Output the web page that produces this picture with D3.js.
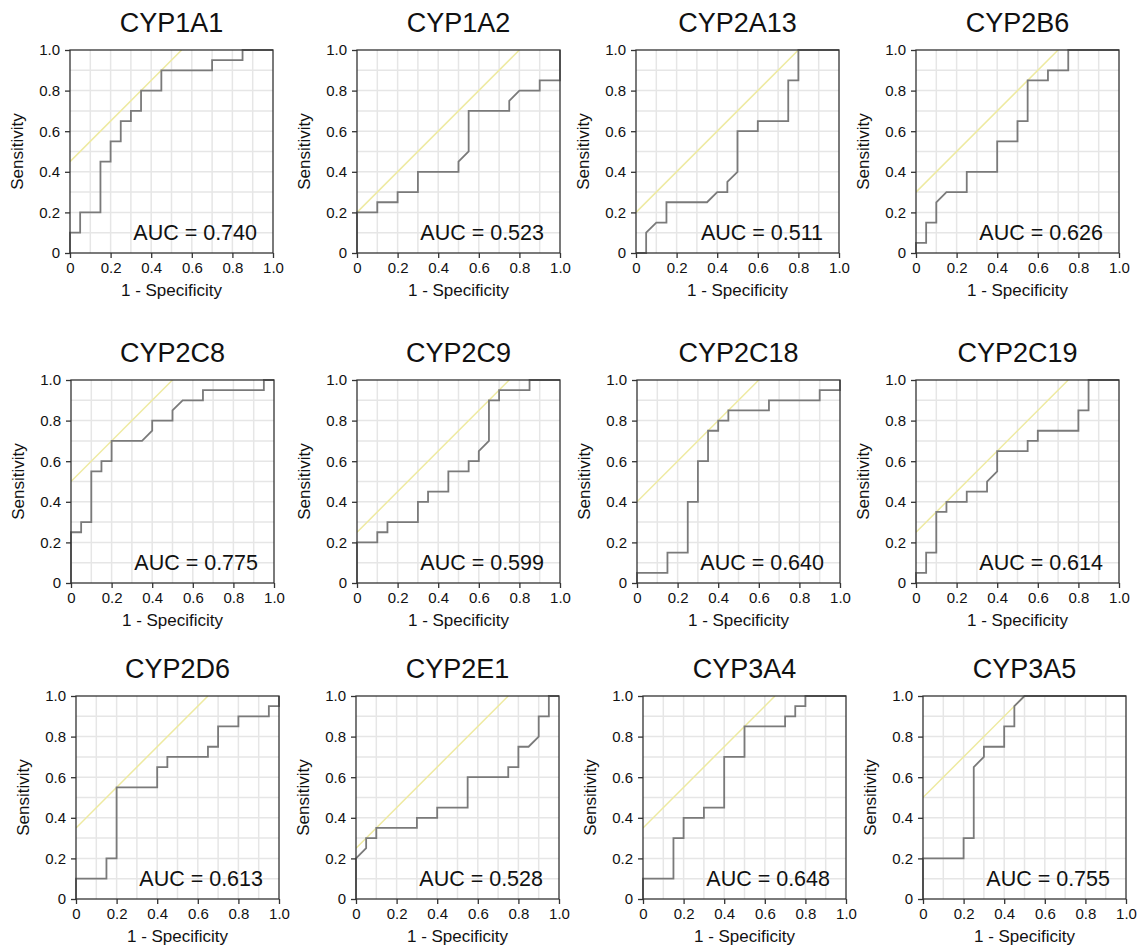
<!DOCTYPE html>
<html>
<head>
<meta charset="utf-8">
<script src="https://cdn.jsdelivr.net/npm/d3@7"></script>
<style>
  html, body { margin: 0; padding: 0; background: #fff; }
  svg { display: block; font-family: "Liberation Sans", Arial, sans-serif; }
</style>
</head>
<body>
<svg id="chart" width="1140" height="946"></svg>
<script>
// ROC curve vertices per enzyme: [1 - specificity, sensitivity]
const genes = ["CYP1A1", "CYP1A2", "CYP2A13", "CYP2B6",
               "CYP2C8", "CYP2C9", "CYP2C18", "CYP2C19",
               "CYP2D6", "CYP2E1", "CYP3A4", "CYP3A5"];
const aucValues = [0.740, 0.523, 0.511, 0.626, 0.775, 0.599, 0.640, 0.614, 0.613, 0.528, 0.648, 0.755];

const rocCYP1A1 = [[0,0.1],[0.05,0.1],[0.05,0.2],[0.15,0.2],[0.15,0.45],[0.2,0.45],[0.2,0.55],[0.25,0.55],[0.25,0.65],[0.3,0.65],[0.3,0.7],[0.35,0.7],[0.35,0.8],[0.45,0.8],[0.45,0.9],[0.7,0.9],[0.7,0.95],[0.85,0.95],[0.85,1]];
const rocCYP1A2 = [[0,0.2],[0.1,0.2],[0.1,0.25],[0.2,0.25],[0.2,0.3],[0.3,0.3],[0.3,0.4],[0.5,0.4],[0.5,0.45],[0.55,0.5],[0.55,0.7],[0.75,0.7],[0.75,0.75],[0.8,0.8],[0.9,0.8],[0.9,0.85],[1,0.85],[1,1]];
const rocCYP2A13 = [[0,0],[0.05,0],[0.05,0.1],[0.1,0.15],[0.15,0.15],[0.15,0.25],[0.35,0.25],[0.4,0.3],[0.45,0.3],[0.45,0.35],[0.5,0.4],[0.5,0.6],[0.6,0.6],[0.6,0.65],[0.75,0.65],[0.75,0.85],[0.8,0.85],[0.8,1]];
const rocCYP2B6 = [[0,0.05],[0.05,0.05],[0.05,0.15],[0.1,0.15],[0.1,0.25],[0.15,0.3],[0.25,0.3],[0.25,0.4],[0.4,0.4],[0.4,0.55],[0.5,0.55],[0.5,0.65],[0.55,0.65],[0.55,0.85],[0.65,0.85],[0.65,0.9],[0.75,0.9],[0.75,1]];
const rocCYP2C8 = [[0,0.25],[0.05,0.25],[0.05,0.3],[0.1,0.3],[0.1,0.55],[0.15,0.55],[0.15,0.6],[0.2,0.6],[0.2,0.7],[0.35,0.7],[0.4,0.75],[0.4,0.8],[0.5,0.8],[0.5,0.85],[0.55,0.9],[0.65,0.9],[0.65,0.95],[0.95,0.95],[0.95,1]];
const rocCYP2C9 = [[0,0.2],[0.1,0.2],[0.1,0.25],[0.15,0.25],[0.15,0.3],[0.3,0.3],[0.3,0.4],[0.35,0.4],[0.35,0.45],[0.45,0.45],[0.45,0.55],[0.55,0.55],[0.55,0.6],[0.6,0.6],[0.6,0.65],[0.65,0.7],[0.65,0.9],[0.7,0.9],[0.7,0.95],[0.85,0.95],[0.85,1]];
const rocCYP2C18 = [[0,0.05],[0.15,0.05],[0.15,0.15],[0.25,0.15],[0.25,0.4],[0.3,0.4],[0.3,0.6],[0.35,0.6],[0.35,0.75],[0.4,0.75],[0.4,0.8],[0.45,0.8],[0.45,0.85],[0.65,0.85],[0.65,0.9],[0.9,0.9],[0.9,0.95],[1,0.95],[1,1]];
const rocCYP2C19 = [[0,0.05],[0.05,0.05],[0.05,0.15],[0.1,0.15],[0.1,0.35],[0.15,0.35],[0.15,0.4],[0.25,0.4],[0.25,0.45],[0.35,0.45],[0.35,0.5],[0.4,0.55],[0.4,0.65],[0.55,0.65],[0.55,0.7],[0.6,0.7],[0.6,0.75],[0.8,0.75],[0.8,0.85],[0.85,0.85],[0.85,1]];
const rocCYP2D6 = [[0,0.1],[0.15,0.1],[0.15,0.2],[0.2,0.2],[0.2,0.55],[0.4,0.55],[0.4,0.65],[0.45,0.65],[0.45,0.7],[0.65,0.7],[0.65,0.75],[0.7,0.75],[0.7,0.85],[0.8,0.85],[0.8,0.9],[0.95,0.9],[0.95,0.95],[1,0.95],[1,1]];
const rocCYP2E1 = [[0,0.2],[0.05,0.25],[0.05,0.3],[0.1,0.3],[0.1,0.35],[0.3,0.35],[0.3,0.4],[0.4,0.4],[0.4,0.45],[0.55,0.45],[0.55,0.6],[0.75,0.6],[0.75,0.65],[0.8,0.65],[0.8,0.75],[0.85,0.75],[0.9,0.8],[0.9,0.9],[0.95,0.9],[0.95,1]];
const rocCYP3A4 = [[0,0.1],[0.15,0.1],[0.15,0.3],[0.2,0.3],[0.2,0.4],[0.3,0.4],[0.3,0.45],[0.4,0.45],[0.4,0.7],[0.5,0.7],[0.5,0.85],[0.7,0.85],[0.7,0.9],[0.75,0.9],[0.75,0.95],[0.8,0.95],[0.8,1]];
const rocCYP3A5 = [[0,0.2],[0.2,0.2],[0.2,0.3],[0.25,0.3],[0.25,0.65],[0.3,0.7],[0.3,0.75],[0.4,0.75],[0.4,0.85],[0.45,0.85],[0.45,0.95],[0.5,1]];

const rocCurves = [rocCYP1A1, rocCYP1A2, rocCYP2A13, rocCYP2B6,
                   rocCYP2C8, rocCYP2C9, rocCYP2C18, rocCYP2C19,
                   rocCYP2D6, rocCYP2E1, rocCYP3A4, rocCYP3A5];

const axisTicks = [0, 0.2, 0.4, 0.6, 0.8, 1.0];
const gridTicks = [0.1, 0.2, 0.3, 0.4, 0.5, 0.6, 0.7, 0.8, 0.9];

// Panel layout
const plotSize = 203;
const rowTops = [50, 380, 696];
const colLefts = [[70, 357, 636, 916], [71, 357, 637, 916], [76, 356, 643, 923]];

const svg = d3.select("#chart");
const x = d3.scaleLinear().domain([0, 1]).range([0, plotSize]);
const y = d3.scaleLinear().domain([0, 1]).range([plotSize, 0]);
const fmt = d => d === 0 ? "0" : d3.format(".1f")(d);

genes.forEach((gene, i) => {
  const row = Math.floor(i / 4), col = i % 4;
  const g = svg.append("g")
    .attr("transform", `translate(${colLefts[row][col]},${rowTops[row]})`);

  const clipId = "clip" + i;
  g.append("clipPath").attr("id", clipId)
    .append("rect").attr("width", plotSize).attr("height", plotSize);

  // grid
  g.append("g").selectAll("line.v").data(gridTicks).join("line")
    .attr("x1", d => x(d)).attr("x2", d => x(d))
    .attr("y1", 0).attr("y2", plotSize)
    .attr("stroke", "#e6e6e6").attr("stroke-width", 1.5);
  g.append("g").selectAll("line.h").data(gridTicks).join("line")
    .attr("y1", d => y(d)).attr("y2", d => y(d))
    .attr("x1", 0).attr("x2", plotSize)
    .attr("stroke", "#e6e6e6").attr("stroke-width", 1.5);

  // Youden reference line: slope 1 through the best cut-off
  const curve = [[0, 0], ...rocCurves[i], [1, 1]];
  const youden = d3.max(curve, p => p[1] - p[0]);
  g.append("line")
    .attr("clip-path", `url(#${clipId})`)
    .attr("x1", x(0)).attr("y1", y(youden))
    .attr("x2", x(1 - youden)).attr("y2", y(1))
    .attr("stroke", "#eeeaa0").attr("stroke-width", 1.5);

  // ROC curve
  g.append("path")
    .datum(curve)
    .attr("d", d3.line().x(d => x(d[0])).y(d => y(d[1])))
    .attr("fill", "none")
    .attr("stroke", "#7a7a7a").attr("stroke-width", 1.8);

  // frame
  g.append("rect").attr("width", plotSize).attr("height", plotSize)
    .attr("fill", "none").attr("stroke", "#333").attr("stroke-width", 1.3);

  // axes
  const ax = g.append("g").attr("transform", `translate(0,${plotSize})`)
    .call(d3.axisBottom(x).tickValues(axisTicks).tickFormat(fmt).tickSize(5).tickPadding(4));
  const ay = g.append("g")
    .call(d3.axisLeft(y).tickValues(axisTicks).tickFormat(fmt).tickSize(5).tickPadding(5));
  [ax, ay].forEach(a => {
    a.select(".domain").remove();
    a.selectAll(".tick line").attr("stroke", "#333").attr("stroke-width", 1.3);
    a.selectAll(".tick text").attr("font-size", 15).attr("fill", "#111")
      .attr("font-family", "Liberation Sans, Arial, sans-serif");
  });

  // titles
  g.append("text")
    .attr("x", plotSize / 2).attr("y", -18)
    .attr("text-anchor", "middle").attr("font-size", 27).attr("fill", "#111")
    .text(gene);
  g.append("text")
    .attr("x", plotSize / 2).attr("y", plotSize + 43)
    .attr("text-anchor", "middle").attr("font-size", 17).attr("fill", "#111")
    .text("1 - Specificity");
  g.append("text")
    .attr("transform", `translate(-47,${plotSize / 2}) rotate(-90)`)
    .attr("text-anchor", "middle").attr("font-size", 17).attr("fill", "#111")
    .text("Sensitivity");

  // AUC label
  g.append("text")
    .attr("x", plotSize - 16).attr("y", plotSize - 13)
    .attr("text-anchor", "end").attr("font-size", 21.5).attr("fill", "#111")
    .text("AUC = " + aucValues[i].toFixed(3));
});
</script>
</body>
</html>
